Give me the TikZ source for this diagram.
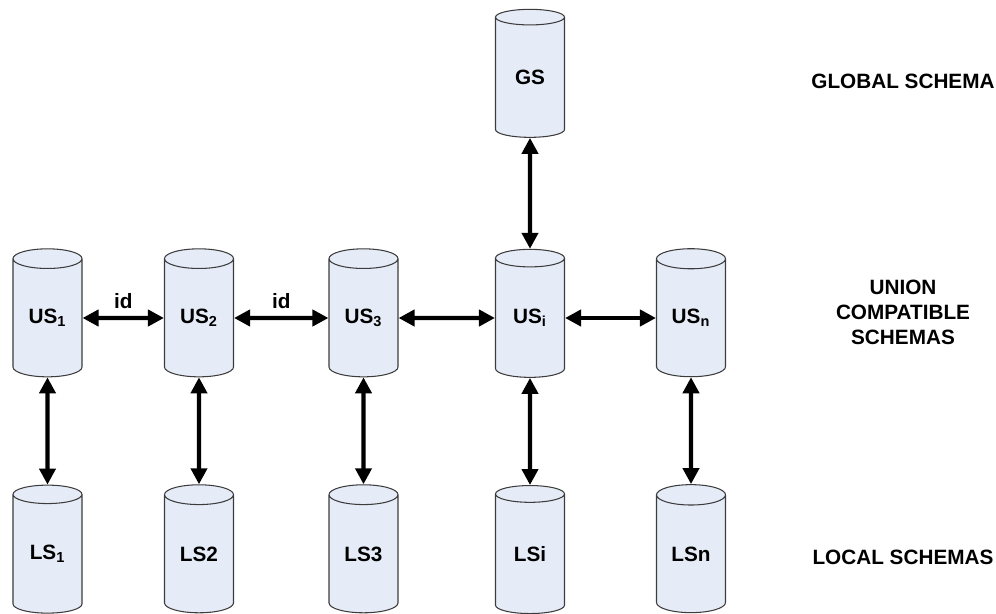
\documentclass[tikz,border=0pt]{standalone}
\usepackage{fontspec}
\setmainfont{Liberation Sans}
\usepackage{tikz}
\usetikzlibrary{shapes.geometric,arrows.meta}
\definecolor{dbfill}{RGB}{230,236,247}
\definecolor{dbline}{RGB}{60,60,60}

\begin{document}
\begin{tikzpicture}[font=\fontsize{11.8}{14.2}\selectfont\bfseries,
		db/.style={cylinder,shape border rotate=90,aspect=0.52,draw=dbline,fill=dbfill,line width=0.6pt,minimum width=1.38cm,minimum height=2.56cm,inner sep=0pt},
		link/.style={{Triangle[length=3.2mm,width=3.2mm]}-{Triangle[length=3.2mm,width=3.2mm]},line width=2.3pt}]
				\useasboundingbox (0,0) rectangle (19.92,12.26);
				\node[db] (gs) at (10.6,10.71) {GS};
				\node[db] (us1) at (0.95,5.90) {US\textsubscript{1}};
				\node[db] (us2) at (3.98,5.90) {US\textsubscript{2}};
				\node[db] (us3) at (7.27,5.90) {US\textsubscript{3}};
				\node[db] (usi) at (10.6,5.90) {US\textsubscript{i}};
				\node[db] (usn) at (13.82,5.90) {US\textsubscript{n}};
				\node[db] (ls1) at (0.95,1.18) {LS\textsubscript{1}};
				\node[db] (ls2) at (3.98,1.18) {LS2};
				\node[db] (ls3) at (7.27,1.18) {LS3};
				\node[db] (lsi) at (10.6,1.18) {LSi};
				\node[db] (lsn) at (13.82,1.18) {LSn};
				\draw[link] (gs) -- (usi);
				\draw[link] (us1) -- node[above=1pt] {id} (us2);
				\draw[link] (us2) -- node[above=1pt] {id} (us3);
				\draw[link] (us3) -- (usi);
				\draw[link] (usi) -- (usn);
				\draw[link] (us1) -- (ls1);
				\draw[link] (us2) -- (ls2);
				\draw[link] (us3) -- (ls3);
				\draw[link] (usi) -- (lsi);
				\draw[link] (usn) -- (lsn);
				\node (global) at (18.06,10.64) {GLOBAL SCHEMA};
				\node[align=center] (union) at (18.06,6.02) {UNION\\COMPATIBLE\\SCHEMAS};
				\node (local) at (18.06,1.12) {LOCAL SCHEMAS};
			\end{tikzpicture}
\end{document}
